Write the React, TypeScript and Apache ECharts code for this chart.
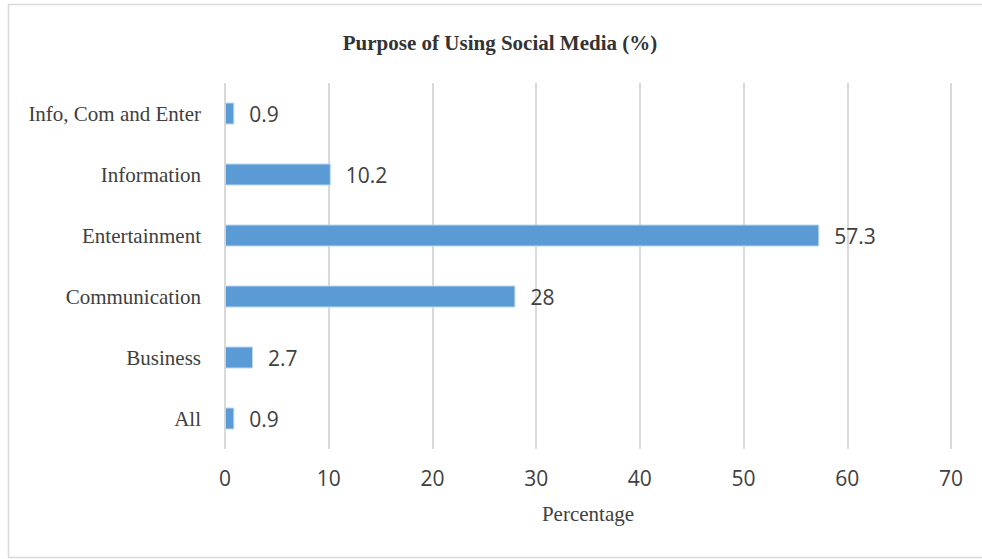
import React, { useEffect, useRef } from "react";
import * as echarts from "echarts";

const categories = ["All", "Business", "Communication", "Entertainment", "Information", "Info, Com and Enter"];
const values = [0.9, 2.7, 28, 57.3, 10.2, 0.9];
const titleText = "Purpose of Using Social Media (%)";
const xAxisName = "Percentage";

export default function App() {
  const ref = useRef<HTMLDivElement>(null);
  useEffect(() => {
    if (!ref.current) return;
    const chart = echarts.init(ref.current, null, { renderer: "svg" });
    chart.setOption({
      animation: false,
      backgroundColor: "#ffffff",
      title: {
        text: titleText,
        left: 495,
        top: 27,
        textAlign: "center",
        textStyle: {
          fontFamily: "Liberation Serif",
          fontWeight: "bold",
          fontSize: 21,
          color: "#333333",
        },
      },
      graphic: [
        {
          type: "rect",
          shape: { x: 8.5, y: 4.5, width: 990, height: 553 },
          style: { fill: "none", stroke: "#d9d9d9", lineWidth: 1.5 },
          silent: true,
          z: -1,
        },
      ],
      grid: { left: 225, right: 31, top: 83, bottom: 110, containLabel: false },
      xAxis: {
        type: "value",
        min: 0,
        max: 70,
        interval: 10,
        name: xAxisName,
        nameLocation: "middle",
        nameGap: 54,
        nameTextStyle: { fontFamily: "Liberation Serif", fontSize: 21, color: "#404040" },
        axisLine: { show: false },
        axisTick: { show: false },
        axisLabel: { fontFamily: "Open Sans", fontSize: 21, color: "#404040", margin: 18 },
        splitLine: { show: true, lineStyle: { color: "#d9d9d9", width: 2 } },
      },
      yAxis: {
        type: "category",
        data: categories,
        axisLine: { show: false },
        axisTick: { show: false },
        axisLabel: { fontFamily: "Liberation Serif", fontSize: 21, color: "#404040", margin: 24 },
      },
      series: [
        {
          type: "bar",
          data: values,
          barWidth: 22,
          itemStyle: { color: "#5b9bd5", borderColor: "#bdd7ee", borderWidth: 1 },
          label: {
            show: true,
            position: "right",
            distance: 15,
            fontFamily: "Open Sans",
            fontSize: 21,
            color: "#404040",
          },
        },
      ],
    });
    return () => chart.dispose();
  }, []);
  return (
    <div
      ref={ref}
      style={{ position: "fixed", left: 0, top: 0, width: 982, height: 559 }}
    />
  );
}
